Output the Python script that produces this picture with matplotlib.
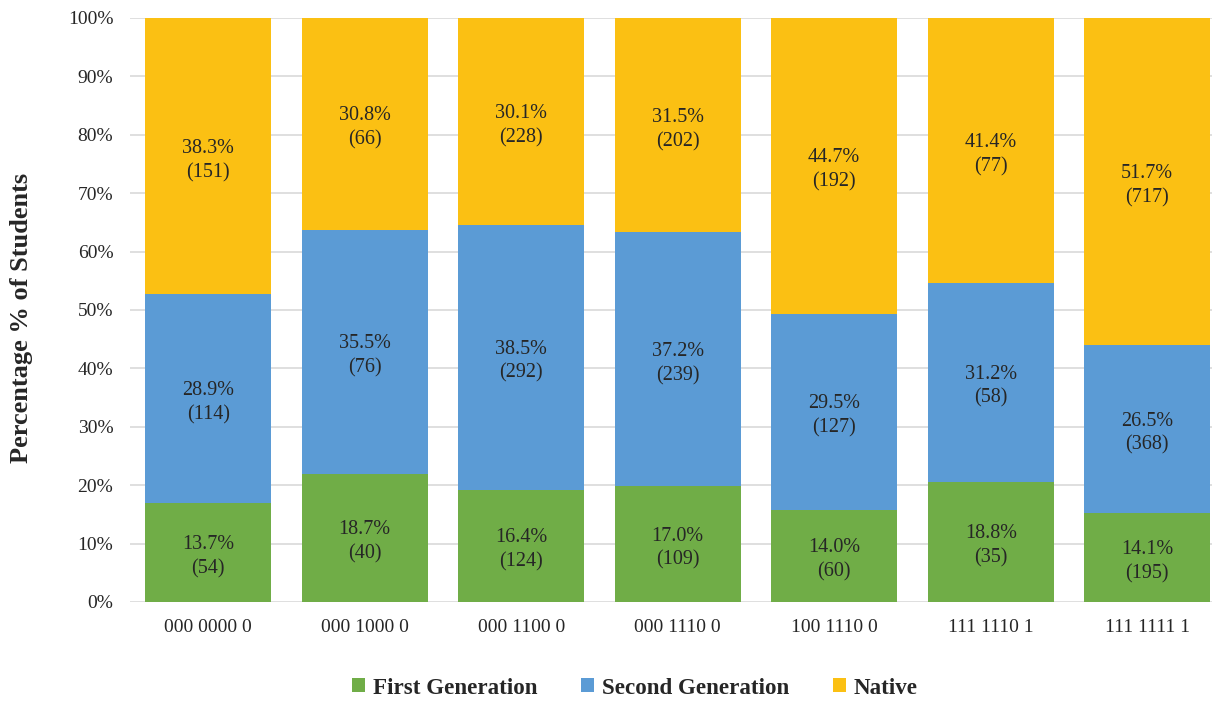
import numpy as np
import matplotlib
matplotlib.use('Agg')
import matplotlib.pyplot as plt
from matplotlib.patches import Patch

plt.rcParams['font.family'] = ['Liberation Serif', 'DejaVu Serif']

# Student counts per profile group
groups = ['000 0000 0', '000 1000 0', '000 1100 0', '000 1110 0',
          '100 1110 0', '111 1110 1', '111 1111 1']
first_gen = [54, 40, 124, 109, 60, 35, 195]
second_gen = [114, 76, 292, 239, 127, 58, 368]
native = [151, 66, 228, 202, 192, 77, 717]

# Reported shares of each generation
first_pct = [13.7, 18.7, 16.4, 17.0, 14.0, 18.8, 14.1]
second_pct = [28.9, 35.5, 38.5, 37.2, 29.5, 31.2, 26.5]
native_pct = [38.3, 30.8, 30.1, 31.5, 44.7, 41.4, 51.7]

series = [
    ('First Generation', first_gen, first_pct, '#70AD47'),
    ('Second Generation', second_gen, second_pct, '#5B9BD5'),
    ('Native', native, native_pct, '#FBC013'),
]

counts = np.array([first_gen, second_gen, native], dtype=float)
shares = counts / counts.sum(axis=0) * 100

fig = plt.figure(figsize=(12.12, 7.02), dpi=100)
# axes run slightly past the right edge of the figure
ax = fig.add_axes([130 / 1212, 100 / 702, 1095.5 / 1212, 584 / 702])

x = np.arange(len(groups))
bottom = np.zeros(len(groups))
handles = []
for i, (name, cnt, pct, color) in enumerate(series):
    ax.bar(x, shares[i], width=0.805, bottom=bottom, color=color, zorder=2)
    for j in range(len(groups)):
        yc = bottom[j] + shares[i][j] / 2
        ax.annotate(f'{pct[j]:.1f}%\n({cnt[j]})', (x[j], yc), xytext=(0, -3),
                    textcoords='offset points', ha='center', va='center',
                    fontsize=14.5, color='#262626', linespacing=1.35, zorder=3)
    bottom += shares[i]
    handles.append(Patch(facecolor=color, label=name))

ax.set_xlim(-0.5, len(groups) - 0.5)
ax.set_ylim(0, 100)
ax.set_yticks(np.arange(0, 101, 10))
ax.set_yticklabels([f'{v}%' for v in range(0, 101, 10)])
ax.set_xticks(x)
ax.set_xticklabels(groups)
ax.tick_params(axis='both', length=0, labelsize=14, labelcolor='#262626')
ax.tick_params(axis='x', pad=12)
ax.tick_params(axis='y', pad=12)
ax.grid(axis='y', color='#D9D9D9', linewidth=1.2, zorder=0)
for s in ax.spines.values():
    s.set_visible(False)

fig.text(22 / 1212, 1 - 318 / 702, 'Percentage % of Students', rotation=90,
         ha='center', va='center', fontsize=19, fontweight='bold', color='#262626')

fig.legend(handles=handles, loc='center', bbox_to_anchor=(635 / 1212, 1 - 688 / 702),
           ncol=3, frameon=False, handlelength=0.55, handleheight=0.55,
           columnspacing=1.9, handletextpad=0.35,
           prop={'size': 16.6, 'weight': 'bold'}, labelcolor='#262626')

fig.savefig('out.png', dpi=100)
